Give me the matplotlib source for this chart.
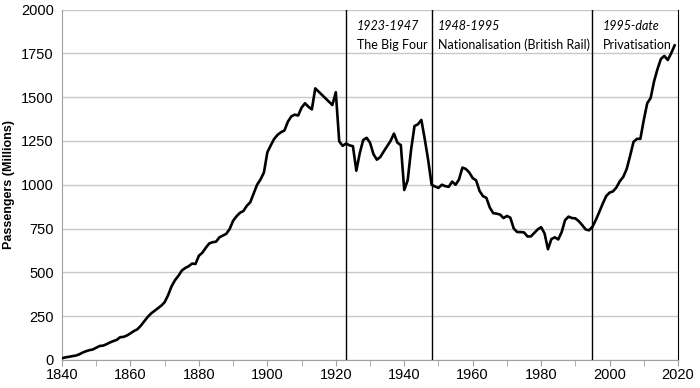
import numpy as np
import matplotlib.pyplot as plt
from matplotlib.ticker import MultipleLocator

# passenger journeys (millions)
years = [1840, 1841, 1842, 1843, 1844, 1845, 1846, 1847, 1848, 1849,
         1850, 1851, 1852, 1853, 1854, 1855, 1856, 1857, 1858, 1859,
         1860, 1861, 1862, 1863, 1864, 1865, 1866, 1867, 1868, 1869,
         1870, 1871, 1872, 1873, 1874, 1875, 1876, 1877, 1878, 1879,
         1880, 1881, 1882, 1883, 1884, 1885, 1886, 1887, 1888, 1889,
         1890, 1891, 1892, 1893, 1894, 1895, 1896, 1897, 1898, 1899,
         1900, 1901, 1902, 1903, 1904, 1905, 1906, 1907, 1908, 1909,
         1910, 1911, 1912, 1913, 1914, 1919,
         1920, 1921, 1922, 1923, 1924, 1925, 1926, 1927, 1928, 1929,
         1930, 1931, 1932, 1933, 1934, 1935, 1936, 1937, 1938, 1939,
         1940, 1941, 1942, 1943, 1944, 1945, 1946, 1947, 1948, 1949,
         1950, 1951, 1952, 1953, 1954, 1955, 1956, 1957, 1958, 1959,
         1960, 1961, 1962, 1963, 1964, 1965, 1966, 1967, 1968, 1969,
         1970, 1971, 1972, 1973, 1974, 1975, 1976, 1977, 1978, 1979,
         1980, 1981, 1982, 1983, 1984, 1985, 1986, 1987, 1988, 1989,
         1990, 1991, 1992, 1993, 1994, 1995, 1996, 1997, 1998, 1999,
         2000, 2001, 2002, 2003, 2004, 2005, 2006, 2007, 2008, 2009,
         2010, 2011, 2012, 2013, 2014, 2015, 2016, 2017, 2018, 2019]
passengers = [10, 15, 18, 22, 25, 32, 42, 50, 56, 60,
              70, 80, 82, 90, 100, 108, 115, 130, 132, 140,
              152, 165, 175, 195, 220, 245, 265, 280, 295, 310,
              330, 370, 420, 455, 480, 510, 525, 535, 550, 548,
              595, 612, 640, 665, 672, 675, 700, 710, 720, 748,
              795, 820, 840, 850, 880, 900, 950, 1000, 1030, 1070,
              1185, 1225, 1262, 1285, 1300, 1310, 1360, 1390, 1400, 1395,
              1440, 1465, 1445, 1430, 1550, 1455,
              1528, 1248, 1222, 1235, 1225, 1220, 1080, 1180, 1255, 1268,
              1240, 1175, 1143, 1158, 1190, 1220, 1250, 1292, 1240, 1226,
              970, 1025, 1200, 1335, 1345, 1370, 1260, 1140, 1000, 990,
              982, 1000, 992, 988, 1018, 1000, 1030, 1098, 1090, 1070,
              1038, 1025, 965, 935, 925, 870, 838, 835, 830, 810,
              822, 812, 750, 730, 730, 728, 705, 705, 725, 745,
              758, 722, 632, 690, 700, 688, 730, 798, 818, 810,
              808, 792, 770, 745, 740, 760, 800, 845, 892, 935,
              955, 962, 985, 1020, 1045, 1090, 1165, 1245, 1262, 1262,
              1370, 1465, 1495, 1590, 1660, 1718, 1735, 1712, 1750, 1795]

era_starts = [1923, 1948, 1995]
era_dates = ["1923-1947", "1948-1995", "1995-date"]
era_names = ["The Big Four", "Nationalisation (British Rail)", "Privatisation"]
era_gap = [11, 6, 10]  # px between line and label

fig = plt.figure(figsize=(7, 3.88), dpi=100)
ax = fig.add_axes([0.0886, 0.0722, 0.88, 0.9033])

ax.plot(years, passengers, color='black', lw=1.9, zorder=3)

for x in era_starts:
    ax.axvline(x, color='black', lw=1, zorder=2)

for x, d, n, g in zip(era_starts, era_dates, era_names, era_gap):
    tx = x + g / 3.422
    ax.text(tx, 1905, d, style='italic', family='Lato', fontsize=9,
            ha='left', va='center')
    ax.text(tx, 1800, n, family='Lato', fontsize=9, ha='left', va='center')

ax.set_xlim(1840, 2020)
ax.set_ylim(0, 2000)
ax.yaxis.set_major_locator(MultipleLocator(250))
ax.xaxis.set_major_locator(MultipleLocator(20))
ax.xaxis.set_minor_locator(MultipleLocator(10))
ax.grid(axis='y', color='#c8c8c8', lw=1, zorder=0)
ax.set_axisbelow(True)

ax.spines['top'].set_visible(False)
ax.spines['left'].set_color('#a0a0a0')
ax.spines['bottom'].set_color('#a0a0a0')
ax.spines['right'].set_color('black')

ax.tick_params(axis='y', length=0, labelsize=10.5, pad=6)
ax.tick_params(axis='x', which='both', direction='out', color='#a0a0a0',
               length=4, labelsize=10.5, pad=2)
for lab in ax.get_xticklabels() + ax.get_yticklabels():
    lab.set_family('Liberation Sans')

ax.set_ylabel("Passengers (Millions)", fontsize=9, fontweight='bold',
              family='Liberation Sans', labelpad=4)

fig.savefig("out.png", dpi=100)
